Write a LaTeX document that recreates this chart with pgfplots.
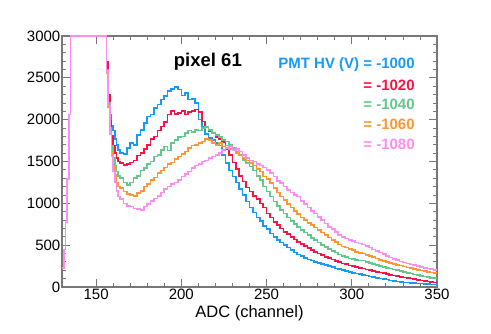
\documentclass[border=0pt]{standalone}
\usepackage{fontspec}
\setmainfont{Liberation Sans}
\usepackage{pgfplots}
\pgfplotsset{compat=1.18}

\definecolor{hvA}{RGB}{20,155,250}
\definecolor{hvB}{RGB}{250,20,70}
\definecolor{hvC}{RGB}{100,200,140}
\definecolor{hvD}{RGB}{255,150,50}
\definecolor{hvE}{RGB}{255,140,240}
\definecolor{frame}{RGB}{120,120,120}

\begin{document}
\begin{tikzpicture}
\path[use as bounding box] (0,0) rectangle (491pt,334pt);
\begin{axis}[
  at={(62pt,47pt)}, anchor=south west,
  scale only axis, width=375pt, height=251pt,
  xmin=130, xmax=350, ymin=0, ymax=3000,
  xtick={150,200,...,350}, ytick={0,500,...,3000},
  minor x tick num=4, minor y tick num=4,
  tick align=inside, tick pos=both,
  major tick length=8pt, minor tick length=4pt,
  every tick/.style={frame, line width=0.8pt},
  axis line style={frame, line width=1.3pt},
  /pgf/number format/assume math mode=true,
  /pgf/number format/1000 sep={},
  ticklabel style={font=\fontsize{15}{15}\selectfont},
  yticklabel style={inner sep=1.5pt},
  xticklabel style={inner sep=2pt},
  xlabel={ADC (channel)},
  every axis x label/.style={at={(axis description cs:0.5,0)}, anchor=center,
    yshift=-26pt, font=\fontsize{16.5}{16.5}\selectfont},
  every axis plot/.append style={const plot, line width=1.6pt, mark=none},
]
% -1000 V
\addplot[hvA] coordinates {(130,230)(131,450)(132,770)(133,1290)(134,2060)(135,3000)(156,2650)(157,2280)(158,2060)(159,1930)(160,1870)(161,1770)(162,1700)(163,1640)
(164,1600)(166,1590)(168,1660)(170,1720)(172,1700)(174,1820)(176,1880)(178,1960)(180,2040)(182,2060)(184,2140)(186,2180)(188,2240)(190,2280)(192,2340)(194,2370)(196,2390)(198,2360)(200,2290)(202,2320)(204,2240)(206,2250)(208,2200)(210,2000)(212,1920)(214,1830)(216,1780)(218,1760)(220,1720)(222,1690)(224,1580)(226,1480)(228,1390)(230,1320)(232,1250)(234,1170)(236,1100)(238,1020)(240,950)(242,890)(244,830)(246,790)(248,730)(250,690)(252,640)(254,600)(256,560)(258,530)(260,500)(262,470)(264,440)(266,410)(268,390)(270,370)(272,350)(274,330)(276,315)(278,300)(280,290)(282,275)(284,262)(286,248)(288,238)(290,222)(292,212)(294,200)(296,190)(298,178)(300,170)(302,160)(304,152)(306,143)(308,135)(310,125)(312,118)(314,110)(316,100)(318,95)(320,88)(322,80)(324,72)(326,65)(328,62)(330,56)(332,52)(334,50)(336,46)(338,43)(340,40)(342,38)(344,35)(346,32)(348,28)(350,28)};
% -1020 V
\addplot[hvB] coordinates {(130,230)(131,450)(132,770)(133,1290)(134,2060)(135,3000)(156,2690)(157,2300)(158,1990)(159,1810)(160,1690)(161,1600)(162,1540)(163,1500)
(164,1480)(166,1460)(168,1470)(170,1490)(172,1510)(174,1570)(176,1600)(178,1650)(180,1700)(182,1770)(184,1800)(186,1870)(188,1920)(190,1970)(192,2060)(194,2100)(196,2070)(198,2080)(200,2100)(202,2060)(204,2090)(206,2100)(208,2120)(210,2090)(212,1980)(214,1910)(216,1860)(218,1840)(220,1790)(222,1770)(224,1730)(226,1650)(228,1580)(230,1490)(232,1410)(234,1330)(236,1260)(238,1190)(240,1140)(242,1090)(244,1050)(246,1000)(248,950)(250,880)(252,830)(254,780)(256,740)(258,700)(260,660)(262,630)(264,600)(266,570)(268,540)(270,515)(272,490)(274,465)(276,445)(278,420)(280,400)(282,385)(284,362)(286,345)(288,330)(290,312)(292,298)(294,282)(296,272)(298,258)(300,248)(302,236)(304,230)(306,222)(308,210)(310,200)(312,192)(314,182)(316,172)(318,165)(320,155)(322,146)(324,138)(326,130)(328,122)(330,115)(332,108)(334,100)(336,94)(338,86)(340,80)(342,72)(344,66)(346,60)(348,55)(350,55)};
% -1040 V
\addplot[hvC] coordinates {(130,230)(131,450)(132,770)(133,1290)(134,2060)(135,3000)(156,2600)(157,2200)(158,1900)(159,1690)(160,1540)(161,1450)(162,1380)(163,1330)
(164,1300)(166,1250)(168,1220)(170,1250)(172,1300)(174,1330)(176,1390)(178,1420)(180,1470)(182,1500)(184,1560)(186,1580)(188,1640)(190,1680)(192,1630)(194,1720)(196,1760)(198,1790)(200,1800)(202,1840)(204,1870)(206,1850)(208,1880)(210,1870)(212,1900)(214,1910)(216,1880)(218,1840)(220,1820)(222,1790)(224,1760)(226,1740)(228,1700)(230,1660)(232,1610)(234,1580)(236,1520)(238,1480)(240,1440)(242,1390)(244,1330)(246,1280)(248,1200)(250,1140)(252,1080)(254,1020)(256,970)(258,920)(260,880)(262,830)(264,790)(266,750)(268,720)(270,680)(272,650)(274,620)(276,585)(278,560)(280,530)(282,505)(284,480)(286,452)(288,430)(290,410)(292,390)(294,372)(296,356)(298,342)(300,332)(302,322)(304,318)(306,315)(308,300)(310,290)(312,276)(314,265)(316,252)(318,240)(320,230)(322,220)(324,210)(326,200)(328,190)(330,180)(332,170)(334,160)(336,150)(338,142)(340,132)(342,125)(344,118)(346,110)(348,105)(350,105)};
% -1060 V
\addplot[hvD] coordinates {(130,230)(131,450)(132,770)(133,1290)(134,2060)(135,3000)(156,2550)(157,2150)(158,1850)(159,1620)(160,1450)(161,1340)(162,1250)(163,1200)
(164,1180)(166,1140)(168,1110)(170,1100)(172,1090)(174,1120)(176,1150)(178,1200)(180,1230)(182,1280)(184,1310)(186,1360)(188,1390)(190,1430)(192,1470)(194,1490)(196,1530)(198,1560)(200,1590)(202,1620)(204,1660)(206,1690)(208,1700)(210,1720)(212,1740)(214,1770)(216,1760)(218,1720)(220,1700)(222,1720)(224,1680)(226,1690)(228,1650)(230,1630)(232,1600)(234,1570)(236,1540)(238,1510)(240,1480)(242,1450)(244,1410)(246,1380)(248,1320)(250,1290)(252,1240)(254,1180)(256,1130)(258,1080)(260,1040)(262,990)(264,950)(266,910)(268,870)(270,830)(272,800)(274,765)(276,740)(278,710)(280,680)(282,650)(284,620)(286,590)(288,560)(290,535)(292,510)(294,485)(296,470)(298,452)(300,440)(302,420)(304,408)(306,400)(308,382)(310,370)(312,355)(314,340)(316,325)(318,312)(320,300)(322,290)(324,276)(326,265)(328,255)(330,245)(332,235)(334,225)(336,215)(338,205)(340,196)(342,190)(344,180)(346,172)(348,165)(350,165)};
% -1080 V
\addplot[hvE] coordinates {(130,230)(131,450)(132,770)(133,1290)(134,2060)(135,3000)(156,2580)(157,2170)(158,1830)(159,1560)(160,1380)(161,1250)(162,1150)(163,1080)
(164,1050)(166,1000)(168,970)(170,960)(172,940)(174,930)(176,920)(178,960)(180,990)(182,1030)(184,1060)(186,1090)(188,1130)(190,1170)(192,1200)(194,1230)(196,1250)(198,1280)(200,1320)(202,1350)(204,1380)(206,1420)(208,1450)(210,1470)(212,1500)(214,1510)(216,1540)(218,1560)(220,1580)(222,1600)(224,1640)(226,1660)(228,1680)(230,1640)(232,1650)(234,1620)(236,1580)(238,1540)(240,1510)(242,1500)(244,1470)(246,1450)(248,1430)(250,1400)(252,1360)(254,1320)(256,1270)(258,1240)(260,1200)(262,1160)(264,1130)(266,1100)(268,1080)(270,1030)(272,990)(274,950)(276,905)(278,880)(280,840)(282,800)(284,760)(286,720)(288,690)(290,660)(292,625)(294,600)(296,580)(298,562)(300,550)(302,532)(304,520)(306,510)(308,490)(310,470)(312,450)(314,430)(316,412)(318,392)(320,372)(322,352)(324,336)(326,320)(328,305)(330,292)(332,280)(334,270)(336,260)(338,250)(340,240)(342,230)(344,220)(346,212)(348,205)(350,205)};

\node[font=\bfseries\fontsize{18.5}{18.5}\selectfont] at (rel axis cs:0.389,0.896) {pixel 61};
\begin{scope}[every node/.style={anchor=east, font=\bfseries\fontsize{15}{15}\selectfont, inner sep=0pt}]
\node[text=hvA] at (rel axis cs:0.941,0.887) {PMT HV (V) = -1000};
\node[text=hvB] at (rel axis cs:0.941,0.805) {= -1020};
\node[text=hvC] at (rel axis cs:0.941,0.728) {= -1040};
\node[text=hvD] at (rel axis cs:0.941,0.649) {= -1060};
\node[text=hvE] at (rel axis cs:0.941,0.569) {= -1080};
\end{scope}
\end{axis}
\end{tikzpicture}
\end{document}
